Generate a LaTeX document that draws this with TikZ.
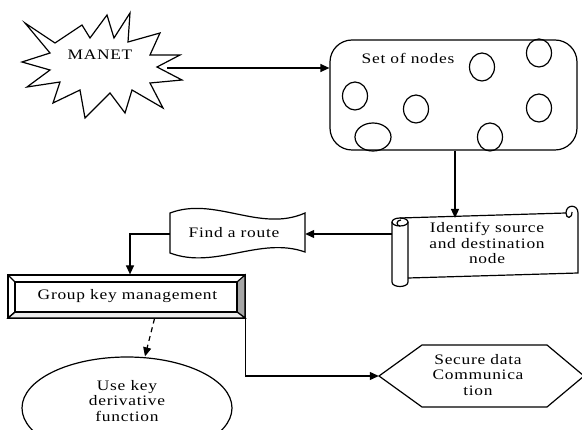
\documentclass[tikz,border=0pt]{standalone}
\usepackage{fontspec}
\setmainfont{Liberation Serif}[FakeStretch = 1.2, LetterSpace = 5]
\usetikzlibrary{arrows.meta,calc,shapes.geometric}
\tikzset{
  line/.style = {line width = 1.2pt, black},
  arr/.style = {line, -{Triangle[length = 9pt, width = 8pt]}},
  txt/.style = {font = \fontsize{14.5}{15.5}\selectfont, align = center, inner sep = 0pt},
  box/.style = {inner sep = 0pt}
}
\begin{document}
\begin{tikzpicture}[x = 1pt, y = -1pt]
      \useasboundingbox (0, 0) rectangle (582, 430);
      \clip (0, 0) rectangle (582, 430);
      % MANET burst
      \draw[line] (25, 23) -- (55, 43) -- (82, 25) -- (90, 38) -- (107, 15) -- (114, 38) -- (130, 13) -- (128, 42)
        -- (160, 33) -- (150, 55) -- (180, 55) -- (157, 67) -- (182, 80) -- (150, 83) -- (163, 108) -- (132, 90)
        -- (125, 113) -- (110, 93) -- (85, 118) -- (80, 90) -- (53, 103) -- (60, 82) -- (27, 87) -- (50, 70)
        -- (22, 62) -- (50, 53) -- cycle;
      \node[txt] (manet) at (100, 55) {MANET};
      \coordinate (manetout) at (167, 68);
      % set of nodes
      \node[box, line, draw, rounded corners = 22pt, minimum width = 247pt, minimum height = 110pt] (setnodes) at (453.5, 95) {};
      \node[txt] (setlabel) at (408, 58) {Set of nodes};
      \foreach \x/\y/\rx/\ry in {482/67/12.5/14, 539/53/12.5/14, 355/96/12.5/14, 416/109/12.5/14,
                                 539/108/12.5/14, 373/137/18/14, 490/137/12.5/14}
        \draw[line] (\x, \y) ellipse (\rx pt and \ry pt);
      % identify (scroll)
      \draw[line] (400, 218) -- (566, 213);
      \draw[line] (566, 213) .. controls (566, 204) and (578, 204) .. (578, 213) -- (578, 273) -- (408, 278);
      \draw[line] (566, 213) .. controls (566, 219) and (572, 219) .. (572, 212);
      \draw[line] (392, 222) -- (392, 282) .. controls (392, 288) and (408, 288) .. (408, 282) -- (408, 222);
      \draw[line] (400, 222) ellipse (8pt and 4pt);
      \draw[line] (400, 226) .. controls (396, 226) and (396, 220) .. (401, 220);
      \node[box, minimum width = 186pt, minimum height = 70pt] (identify) at (485, 246) {};
      \node[txt] (idlabel) at (487, 243) {Identify source\\and destination\\node};
      % find a route
      \draw[line] (170, 213) .. controls (215, 196) and (260, 233) .. (305, 213) -- (305, 252)
        .. controls (260, 236) and (215, 270) .. (170, 253) -- cycle;
      \node[box, minimum width = 135pt, minimum height = 40pt] (route) at (237.5, 234) {};
      \node[txt] (routelabel) at (234, 233) {Find a route};
      % group key management
      \node[box, line, draw, minimum width = 237pt, minimum height = 43pt] (gkm) at (126.5, 296.5) {};
      \filldraw[line, fill = gray!70] (237, 282) -- (245, 275) -- (245, 318) -- (237, 312) -- cycle;
      \filldraw[line, fill = gray!15] (15, 312) -- (237, 312) -- (245, 318) -- (8, 318) -- cycle;
      \draw[line] (15, 282) rectangle (237, 312);
      \draw[line] (8, 275) -- (15, 282);
      \draw[line] (8, 318) -- (15, 312);
      \node[txt] (gkmlabel) at (127.5, 296) {Group key management};
      % key derivative
      \node[box, line, draw, ellipse, minimum width = 210pt, minimum height = 102pt] (kdf) at (127, 408) {};
      \node[txt] (kdflabel) at (127, 401) {Use key\\derivative\\function};
      % secure data
      \draw[line] (379, 376) -- (422, 345) -- (547, 345) -- (584, 376) -- (547, 407) -- (422, 407) -- cycle;
      \node[box, minimum width = 204pt, minimum height = 62pt] (sdc) at (481, 376) {};
      \node[txt] (sdclabel) at (478, 375) {Secure data\\Communica\\tion};
      % connectors
      \draw[arr] (manetout) -- (manetout -| setnodes.west);
      \draw[arr] ([xshift = 1.5pt]setnodes.south) -- ([xshift = 1.5pt]setnodes.south |- 0, 218);
      \draw[arr] (identify.west |- route) -- (route.east);
      \draw[arr] (route.west) -| ([xshift = 3.5pt]gkm.north);
      \draw[arr, dash pattern = on 5pt off 4pt] ([xshift = 28pt]gkm.south) -- ([xshift = 18pt]kdf.north);
      \draw[arr] (gkm.south east) |- (sdc.west);
    \end{tikzpicture}
\end{document}
